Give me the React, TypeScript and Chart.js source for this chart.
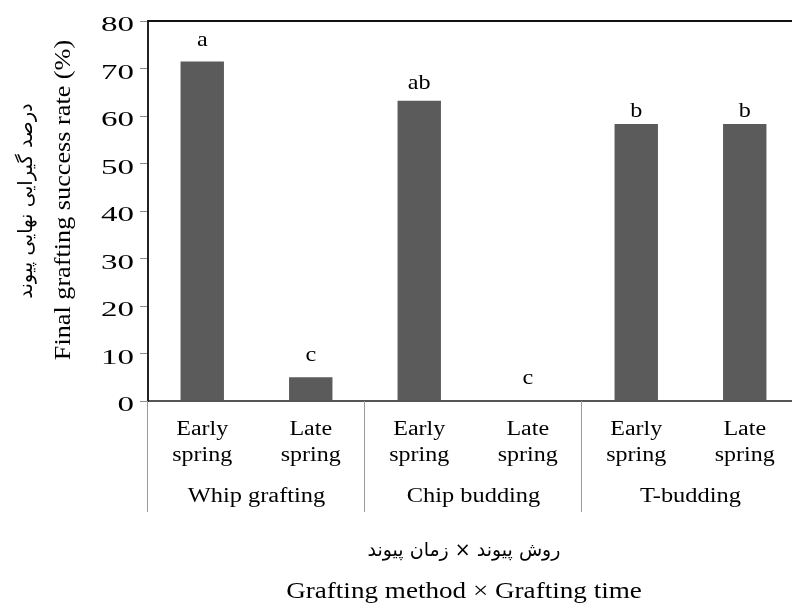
import React, { useEffect, useRef } from "react";
import { Chart, registerables } from "chart.js";

Chart.register(...registerables);

// ---- data ----
const timeLabels: string[][] = [
  ["Early", "spring"],
  ["Late", "spring"],
  ["Early", "spring"],
  ["Late", "spring"],
  ["Early", "spring"],
  ["Late", "spring"],
];
const methods: string[] = ["Whip grafting", "Chip budding", "T-budding"];
const successRate: number[] = [71.5, 5, 63.2, 0, 58.3, 58.3];
const letters: string[] = ["a", "c", "ab", "c", "b", "b"];
// value (in % units) at which each significance letter sits
const letterAt: number[] = [74.7, 8.4, 65.6, 3.6, 59.8, 59.8];
const yTicks: number[] = [0, 10, 20, 30, 40, 50, 60, 70, 80];

const yTitleEn = "Final grafting success rate (%)";
const yTitleFa = "درصد گیرایی نهایی پیوند";
const xTitleEn = "Grafting method × Grafting time";
const xTitleFa = "روش پیوند × زمان پیوند";

const SERIF = '"Liberation Serif", "Times New Roman", serif';
const FA = '"DejaVu Sans", sans-serif';

function txt(
  ctx: CanvasRenderingContext2D,
  s: string,
  x: number,
  y: number,
  font: string,
  sx: number,
  align: CanvasTextAlign,
  baseline: CanvasTextBaseline,
  rot = 0
) {
  ctx.save();
  ctx.translate(x, y);
  if (rot) ctx.rotate(rot);
  ctx.scale(sx, 1);
  ctx.font = font;
  ctx.fillStyle = "#000";
  ctx.textAlign = align;
  ctx.textBaseline = baseline;
  ctx.fillText(s, 0, 0);
  ctx.restore();
}

const decor = {
  id: "decor",
  afterDraw(chart: any) {
    const ctx: CanvasRenderingContext2D = chart.ctx;
    const xs = chart.scales.x;
    const ys = chart.scales.y;
    const ca = chart.chartArea;

    // top border
    ctx.save();
    ctx.strokeStyle = "#111";
    ctx.lineWidth = 2;
    ctx.beginPath();
    ctx.moveTo(ca.left, ca.top);
    ctx.lineTo(ca.right, ca.top);
    ctx.stroke();
    ctx.restore();

    // y tick labels
    yTicks.forEach((v) => {
      const py = ys.getPixelForValue(v);
      txt(ctx, String(v), 134, py + 10, `22px ${SERIF}`, 1.5, "right", "alphabetic");
    });

    // letters above bars
    const meta = chart.getDatasetMeta(0);
    letters.forEach((l, i) => {
      const bar = meta.data[i];
      const py = ys.getPixelForValue(letterAt[i]);
      txt(ctx, l, bar.x, py, `22px ${SERIF}`, 1.1, "center", "alphabetic");
    });

    // category labels
    timeLabels.forEach((lines, i) => {
      const px = xs.getPixelForValue(i);
      txt(ctx, lines[0], px, 435, `20px ${SERIF}`, 1.2, "center", "alphabetic");
      txt(ctx, lines[1], px, 461, `20px ${SERIF}`, 1.2, "center", "alphabetic");
    });

    // group separators and labels
    const half = (xs.getPixelForValue(1) - xs.getPixelForValue(0)) / 2;
    ctx.save();
    ctx.strokeStyle = "#9a9a9a";
    ctx.lineWidth = 1;
    for (let g = 0; g <= methods.length; g++) {
      const px = Math.round(xs.getPixelForValue(g * 2) - half) - 0.5;
      ctx.beginPath();
      ctx.moveTo(px, ca.bottom);
      ctx.lineTo(px, 512);
      ctx.stroke();
    }
    ctx.restore();
    methods.forEach((m, g) => {
      const px = (xs.getPixelForValue(g * 2) + xs.getPixelForValue(g * 2 + 1)) / 2;
      txt(ctx, m, px, 502, `20px ${SERIF}`, 1.22, "center", "alphabetic");
    });

    // titles
    const cx = 464;
    txt(ctx, xTitleFa, cx, 551, `19px ${FA}`, 1, "center", "middle");
    txt(ctx, xTitleEn, cx, 598, `24px ${SERIF}`, 1.13, "center", "alphabetic");
    txt(ctx, yTitleEn, 70, 200, `23px ${SERIF}`, 1.14, "center", "alphabetic", -Math.PI / 2);
    txt(ctx, yTitleFa, 27, 201, `19.5px ${FA}`, 1, "center", "middle", -Math.PI / 2);
  },
};

export default function App() {
  const ref = useRef<HTMLCanvasElement | null>(null);
  useEffect(() => {
    if (!ref.current) return;
    const chart = new Chart(ref.current, {
      type: "bar",
      data: {
        labels: timeLabels.map((l) => l.join(" ")),
        datasets: [
          {
            data: successRate,
            backgroundColor: "#5b5b5b",
            borderWidth: 0,
            barPercentage: 0.4,
            categoryPercentage: 1,
          },
        ],
      },
      options: {
        responsive: false,
        animation: false,
        layout: { padding: { top: 21, right: 21, left: 0, bottom: 0 } },
        plugins: { legend: { display: false }, tooltip: { enabled: false } },
        scales: {
          x: {
            grid: { display: false },
            ticks: { display: false },
            border: { display: true, color: "#555", width: 2 },
            afterFit: (s: any) => {
              s.height = 202;
            },
          },
          y: {
            min: 0,
            max: 80,
            ticks: { display: false, stepSize: 10 },
            grid: {
              display: true,
              drawOnChartArea: false,
              drawTicks: true,
              tickLength: 8,
              color: "#8a8a8a",
              lineWidth: 1,
            },
            border: { display: true, color: "#222", width: 2 },
            afterFit: (s: any) => {
              s.width = 148;
            },
          },
        },
      },
      plugins: [decor],
    });
    return () => chart.destroy();
  }, []);
  return (
    <div style={{ position: "absolute", left: 0, top: 0, width: 820, height: 603 }}>
      <canvas ref={ref} width={820} height={603} />
    </div>
  );
}
